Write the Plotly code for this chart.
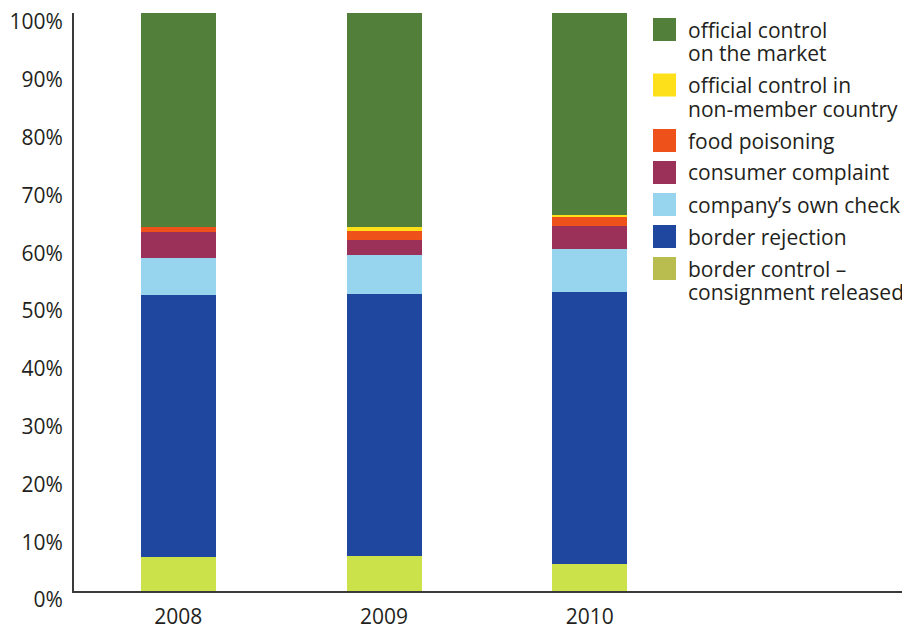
import plotly.graph_objects as go

years = ["2008", "2009", "2010"]

series_names = [
    "border control –<br>consignment released",
    "border rejection",
    "company’s own check",
    "consumer complaint",
    "food poisoning",
    "official control in<br>non-member country",
    "official control<br>on the market",
]
border_released = [5.9, 6.1, 4.7]
border_rejection = [45.3, 45.3, 47.0]
own_check = [6.4, 6.7, 7.5]
consumer_complaint = [4.5, 2.6, 3.9]
food_poisoning = [0.8, 1.6, 1.7]
non_member = [0.0, 0.7, 0.2]
official_market = [37.1, 37.0, 35.0]

series_values = [border_released, border_rejection, own_check, consumer_complaint,
                 food_poisoning, non_member, official_market]
bar_colors = ["#cbe24a", "#1f47a0", "#97d4ed", "#9b3058", "#ee5119", "#fde01a", "#527f3a"]
legend_colors = ["#b9bc4f", "#1f47a0", "#97d4ed", "#9b3058", "#ee5119", "#fde01a", "#527f3a"]

y_tick_vals = [0, 10, 20, 30, 40, 50, 60, 70, 80, 90, 100]
y_tick_text = ["0%", "10%", "20%", "30%", "40%", "50%", "60%", "70%", "80%", "90%", "100%"]

FONT = "'Open Sans', 'Noto Sans', sans-serif"
TXT = "#231f20"
FS = 21

# the page adds an 8px body margin; compensate so the figure fills the 910x628 window
OFF = 8
W, H = 910 - OFF, 628 - OFF
ML, MR, MT, MB = 74 - OFF, 0, 13 - OFF, 37
PW, PH = W - ML - MR, H - MT - MB


def px2paper(xp, yp):
    # xp, yp are window pixel coordinates
    return (xp - OFF - ML) / PW, (H - MB - (yp - OFF)) / PH


fig = go.Figure()
for name, vals, col in zip(series_names, series_values, bar_colors):
    fig.add_trace(go.Bar(x=years, y=vals, name=name, marker=dict(color=col, line=dict(width=0)),
                         width=0.364, showlegend=False))

# manual legend (top entry first)
shapes = []
annotations = []
yc = 29.5
for name, col in zip(reversed(series_names), reversed(legend_colors)):
    lines = name.split("<br>")
    x0, y0 = px2paper(653, yc - 11.5)
    x1, y1 = px2paper(676, yc + 11.5)
    shapes.append(dict(type="rect", xref="paper", yref="paper", x0=x0, x1=x1, y0=y1, y1=y0,
                       fillcolor=col, line=dict(width=0), layer="above"))
    for i, ln in enumerate(lines):
        tx, ty = px2paper(686, yc + i * 23.5)
        annotations.append(dict(text=ln, xref="paper", yref="paper", x=tx, y=ty,
                                xanchor="left", yanchor="middle", showarrow=False,
                                font=dict(family=FONT, size=FS, color=TXT)))
    yc += 32 + 23.5 * (len(lines) - 1)

fig.update_layout(
    barmode="stack",
    width=W, height=H,
    margin=dict(l=ML, r=MR, t=MT, b=MB, pad=0, autoexpand=False),
    paper_bgcolor="white", plot_bgcolor="white",
    font=dict(family=FONT, size=FS, color=TXT),
    shapes=shapes, annotations=annotations,
    xaxis=dict(type="category", range=[-0.507, 3.556], showline=True, linecolor="#3a3a3a",
               linewidth=2, ticks="", showgrid=False, zeroline=False, automargin=False,
               tickfont=dict(family=FONT, size=FS, color=TXT), ticklabelstandoff=6),
    yaxis=dict(range=[0, 100], tickvals=y_tick_vals, ticktext=y_tick_text, showline=True,
               linecolor="#3a3a3a", linewidth=2, ticks="", showgrid=False, zeroline=False,
               automargin=False,
               tickfont=dict(family=FONT, size=FS, color=TXT), ticklabelstandoff=5,
               ticklabelshift=9, ticklabeloverflow="allow"),
    bargap=0,
)

fig.write_html("out.html")
